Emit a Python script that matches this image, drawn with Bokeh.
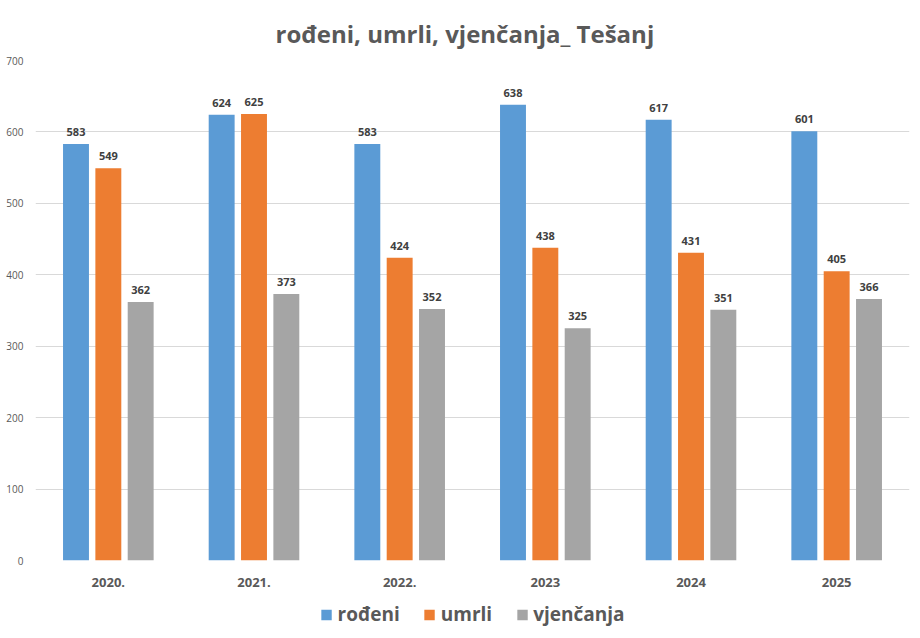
from bokeh.plotting import figure
from bokeh.models import ColumnDataSource, FactorRange, Legend, LegendItem
from bokeh.layouts import column
from bokeh.transform import dodge
from bokeh.core.properties import value
from bokeh.embed import file_html
from bokeh.resources import INLINE

years = ["2020.", "2021.", "2022.", "2023", "2024", "2025"]
rodeni = [583, 624, 583, 638, 617, 601]
umrli = [549, 625, 424, 438, 431, 405]
vjencanja = [362, 373, 352, 325, 351, 366]
y_ticks = [0, 100, 200, 300, 400, 500, 600, 700]

source = ColumnDataSource(dict(
    year=years, rodeni=rodeni, umrli=umrli, vjencanja=vjencanja,
    rodeni_t=[str(v) for v in rodeni],
    umrli_t=[str(v) for v in umrli],
    vjencanja_t=[str(v) for v in vjencanja],
))

FONT = "Open Sans"
GREY_TXT = "#595959"

p = figure(width=912, height=594, x_range=FactorRange(*years, range_padding=0),
           y_range=(0, 700), output_backend="svg", toolbar_location=None,
           min_border_left=35, min_border_right=3, min_border_top=60, min_border_bottom=34)

p.title.text = "rođeni, umrli,  vjenčanja_ Tešanj"
p.title.align = "left"
p.title.offset = 240
p.title.text_font = FONT
p.title.text_font_size = "24px"
p.title.text_font_style = "bold"
p.title.text_color = GREY_TXT
p.title.standoff = 22

p.outline_line_color = None
p.xgrid.grid_line_color = None
p.ygrid.grid_line_color = "#D9D9D9"
p.ygrid.ticker = y_ticks

p.yaxis.ticker = y_ticks
p.yaxis.axis_line_color = None
p.yaxis.major_tick_line_color = None
p.yaxis.minor_tick_line_color = None
p.yaxis.major_label_text_font = FONT
p.yaxis.major_label_text_font_size = "10px"
p.yaxis.major_label_text_color = GREY_TXT
p.yaxis.major_label_standoff = 6

p.xaxis.axis_line_color = None
p.xaxis.major_tick_line_color = None
p.xaxis.major_label_text_font = FONT
p.xaxis.major_label_text_font_size = "13px"
p.xaxis.major_label_text_font_style = "bold"
p.xaxis.major_label_text_color = GREY_TXT
p.xaxis.major_label_standoff = 11

series = [("rodeni", "rođeni", "#5B9BD5", -0.222),
          ("umrli", "umrli", "#ED7D31", 0.0),
          ("vjencanja", "vjenčanja", "#A5A5A5", 0.222)]

# legend-only figure below the chart
lf = figure(width=912, height=40, x_range=(0, 1), y_range=(0, 1),
            output_backend="svg", toolbar_location=None,
            min_border_left=2, min_border_right=0, min_border_top=0, min_border_bottom=0)
lf.axis.visible = False
lf.grid.visible = False
lf.outline_line_color = None

items = []
for col, label, color, off in series:
    p.vbar(x=dodge("year", off, range=p.x_range), top=col, width=0.178,
           source=source, fill_color=color, line_color=None)
    p.text(x=dodge("year", off, range=p.x_range), y=col, text=col + "_t", source=source,
           text_align="center", text_baseline="bottom", y_offset=-8,
           text_font=value(FONT), text_font_size="11px", text_font_style="bold",
           text_color="#404040")
    # legend proxy: lies outside the legend strip's ranges, so only its key is drawn
    lr = lf.vbar(x=[-5], top=[-5], bottom=[-6], width=0.1, fill_color=color, line_color=None)
    items.append(LegendItem(label=label, renderers=[lr]))

legend = Legend(items=items, orientation="horizontal", location="center",
                label_text_font=FONT, label_text_font_size="19px",
                label_text_font_style="bold", label_text_color=GREY_TXT,
                glyph_width=13, glyph_height=13, spacing=23, label_standoff=5,
                border_line_color=None, background_fill_alpha=0,
                margin=0, padding=2)
lf.add_layout(legend)

layout = column(p, lf, spacing=0)
open("out.html", "w").write(file_html(layout, INLINE))
